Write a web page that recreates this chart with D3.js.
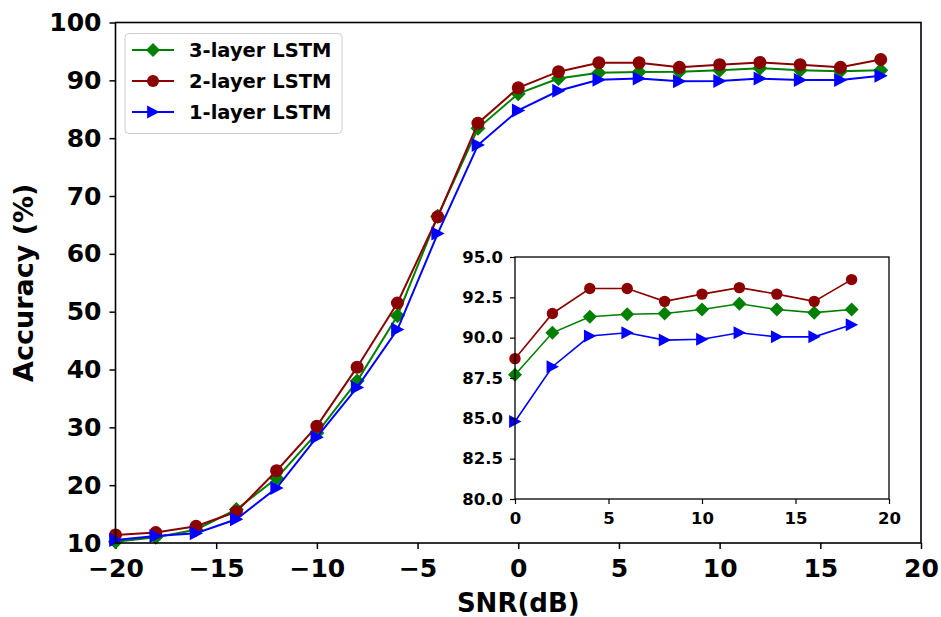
<!DOCTYPE html>
<html>
<head>
<meta charset="utf-8">
<script src="https://cdn.jsdelivr.net/npm/d3@7/dist/d3.min.js"></script>
<style>
  html, body { margin: 0; padding: 0; background: #fff; }
  svg { display: block; font-family: "DejaVu Sans", sans-serif; font-weight: bold; }
</style>
</head>
<body>
<svg id="chart" width="941" height="617"></svg>
<script>
// ---- data ----
const snr = [-20, -18, -16, -14, -12, -10, -8, -6, -4, -2, 0, 2, 4, 6, 8, 10, 12, 14, 16, 18];
const lstm3 = [10.2, 11.0, 12.3, 15.8, 21.2, 29.0, 38.0, 49.3, 66.5, 81.7, 87.7, 90.3, 91.3, 91.45, 91.5, 91.75, 92.1, 91.75, 91.55, 91.75];
const lstm2 = [11.4, 11.8, 12.9, 15.4, 22.5, 30.2, 40.4, 51.5, 66.4, 82.6, 88.7, 91.5, 93.05, 93.05, 92.25, 92.7, 93.1, 92.7, 92.25, 93.6];
const lstm1 = [10.5, 11.2, 11.7, 14.1, 19.5, 28.3, 36.9, 46.9, 63.5, 78.8, 84.8, 88.2, 90.1, 90.3, 89.85, 89.9, 90.3, 90.05, 90.05, 90.8];
const seriesNames = ["3-layer LSTM", "2-layer LSTM", "1-layer LSTM"];
const mainXTicks = [-20, -15, -10, -5, 0, 5, 10, 15, 20];
const mainYTicks = [10, 20, 30, 40, 50, 60, 70, 80, 90, 100];
const insetXTicks = [0, 5, 10, 15, 20];
const insetYTicks = [80.0, 82.5, 85.0, 87.5, 90.0, 92.5, 95.0];
const xLabel = "SNR(dB)";
const yLabel = "Accuracy (%)";

const seriesData = [lstm3, lstm2, lstm1];
const colors = ["#008000", "#8b0000", "#0000ff"];
const markerTypes = ["diamond", "circle", "triangle"];

const svg = d3.select("#chart");

function markerPath(type, s) {
  if (type === "diamond") return `M0,${-s}L${s},0L0,${s}L${-s},0Z`;
  if (type === "triangle") return `M${s},0L${-s*0.9},${-s}L${-s*0.9},${s}Z`;
  return d3.symbol(d3.symbolCircle, Math.PI * s * s)();
}

// ---- main plot ----
const M = { left: 115.5, right: 921, top: 22.5, bottom: 543 };
const x = d3.scaleLinear().domain([-20, 20]).range([M.left, M.right]);
const y = d3.scaleLinear().domain([10, 100]).range([M.bottom, M.top]);

const gx = svg.append("g").attr("transform", `translate(0,${M.bottom})`)
  .call(d3.axisBottom(x).tickValues(mainXTicks).tickSize(6).tickPadding(10).tickFormat(d3.format("d")));
const gy = svg.append("g").attr("transform", `translate(${M.left},0)`)
  .call(d3.axisLeft(y).tickValues(mainYTicks).tickSize(6).tickPadding(8).tickFormat(d3.format("d")));
[gx, gy].forEach(g => {
  g.select(".domain").remove();
  g.selectAll(".tick line").attr("stroke", "#000").attr("stroke-width", 1.5);
  g.selectAll(".tick text").attr("font-size", 25).attr("font-family", "DejaVu Sans").attr("font-weight", "bold").attr("fill", "#000");
});

function drawSeries(g, xs, ys, xVals, valsList, lw, sizes) {
  valsList.forEach((vals, i) => {
    const pts = xVals.map((d, j) => [d, vals[j]]);
    g.append("path")
      .attr("d", d3.line().x(d => xs(d[0])).y(d => ys(d[1]))(pts))
      .attr("fill", "none").attr("stroke", colors[i]).attr("stroke-width", lw);
    g.selectAll(null).data(pts).enter().append("path")
      .attr("transform", d => `translate(${xs(d[0])},${ys(d[1])})`)
      .attr("d", markerPath(markerTypes[i], sizes[i]))
      .attr("fill", colors[i]);
  });
}

const mainG = svg.append("g");
drawSeries(mainG, x, y, snr, seriesData, 2, [7.5, 6.5, 7]);

svg.append("rect").attr("x", M.left).attr("y", M.top)
  .attr("width", M.right - M.left).attr("height", M.bottom - M.top)
  .attr("fill", "none").attr("stroke", "#000").attr("stroke-width", 1.6);

// axis labels
svg.append("text").attr("x", (M.left + M.right) / 2).attr("y", 612)
  .attr("text-anchor", "middle").attr("font-size", 26).text(xLabel);
svg.append("text").attr("transform", `translate(33,${(M.top + M.bottom) / 2}) rotate(-90)`)
  .attr("text-anchor", "middle").attr("font-size", 27).text(yLabel);

// ---- legend ----
const L = svg.append("g");
L.append("rect").attr("x", 125).attr("y", 33.5).attr("width", 217).attr("height", 100)
  .attr("rx", 4).attr("fill", "#fff").attr("fill-opacity", 0.8).attr("stroke", "#ccc").attr("stroke-width", 1);
seriesNames.forEach((name, i) => {
  const yy = 50 + i * 31;
  L.append("line").attr("x1", 132).attr("x2", 174).attr("y1", yy).attr("y2", yy)
    .attr("stroke", colors[i]).attr("stroke-width", 2);
  L.append("path").attr("transform", `translate(153,${yy})`)
    .attr("d", markerPath(markerTypes[i], [7, 6, 6.5][i])).attr("fill", colors[i]);
  L.append("text").attr("x", 189).attr("y", yy + 7).attr("font-size", 19.5).text(name);
});

// ---- inset ----
const I = { left: 515, right: 889, top: 257, bottom: 499 };
const xi = d3.scaleLinear().domain([0, 20]).range([I.left, I.right]);
const yi = d3.scaleLinear().domain([80, 95]).range([I.bottom, I.top]);

svg.append("rect").attr("x", I.left).attr("y", I.top)
  .attr("width", I.right - I.left).attr("height", I.bottom - I.top).attr("fill", "#fff");

const idx = snr.map((d, j) => j).filter(j => snr[j] >= 0);
const insetX = idx.map(j => snr[j]);
const insetVals = seriesData.map(s => idx.map(j => s[j]));
const insetG = svg.append("g");
drawSeries(insetG, xi, yi, insetX, insetVals, 1.6, [7, 5.7, 6.5]);

const gxi = svg.append("g").attr("transform", `translate(0,${I.bottom})`)
  .call(d3.axisBottom(xi).tickValues(insetXTicks).tickSize(5).tickPadding(8).tickFormat(d3.format("d")));
const gyi = svg.append("g").attr("transform", `translate(${I.left},0)`)
  .call(d3.axisLeft(yi).tickValues(insetYTicks).tickSize(5).tickPadding(7).tickFormat(d3.format(".1f")));
[gxi, gyi].forEach(g => {
  g.select(".domain").remove();
  g.selectAll(".tick line").attr("stroke", "#000").attr("stroke-width", 1.2);
  g.selectAll(".tick text").attr("font-size", 16.5).attr("font-family", "DejaVu Sans").attr("font-weight", "bold").attr("fill", "#000");
});
svg.append("rect").attr("x", I.left).attr("y", I.top)
  .attr("width", I.right - I.left).attr("height", I.bottom - I.top)
  .attr("fill", "none").attr("stroke", "#000").attr("stroke-width", 1.3);
</script>
</body>
</html>
